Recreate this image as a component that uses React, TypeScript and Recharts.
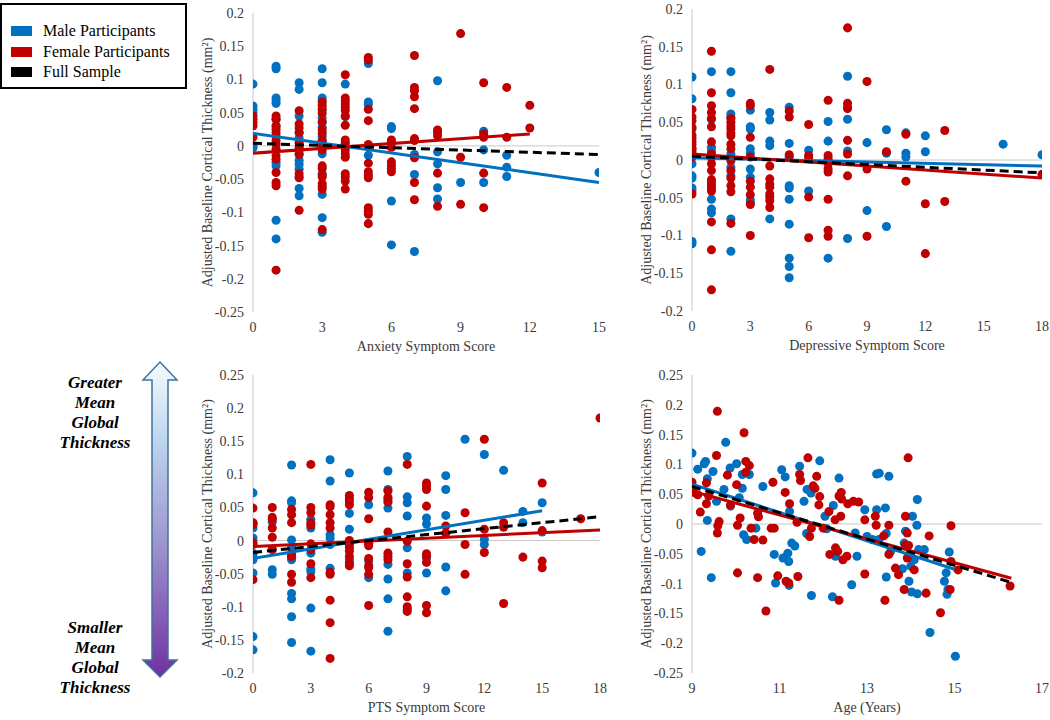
import React from "react";
import { ScatterChart, Scatter, XAxis, YAxis, ZAxis, ReferenceLine } from "recharts";

type Col = [number, number[]];
type Pt = [number, number];

const BLUE = "#0070c0";
const RED = "#c00000";
const AXIS_GRAY = "#c8c8c8";
const TEXT = "#3a3a3a";
const FONT = '"Liberation Serif", "Times New Roman", serif';
const Y_LABEL = "Adjusted Baseline Cortical Thickness (mm²)";

// ---- Anxiety panel (score columns) ----
const anxietyMale: Col[] = [
  [0, [0.093, 0.06, 0.055, 0.05, 0.0, -0.003]],
  [1, [0.12, 0.116, 0.072, 0.068, 0.064, 0.04, 0.03, -0.025, -0.03, -0.112, -0.14]],
  [2, [0.095, 0.085, 0.045, 0.02, 0.012, -0.012, -0.022, -0.028, -0.035, -0.047, -0.064, -0.075]],
  [3, [0.116, 0.095, 0.072, 0.068, 0.054, 0.042, 0.036, 0.028, 0.014, 0.008, 0.001, -0.012, -0.042, -0.073, -0.108, -0.13]],
  [4, [0.093, 0.044]],
  [5, [0.124, 0.066, 0.062, -0.014]],
  [6, [0.029, 0.026, -0.083, -0.149]],
  [7, [-0.013, -0.043, -0.159]],
  [8, [0.098, -0.009, -0.027, -0.063, -0.08]],
  [9, [-0.055]],
  [10, [0.022, -0.006, -0.055]],
  [11, [-0.014, -0.032, -0.046]],
  [15, [-0.04]],
];
const anxietyFemale: Col[] = [
  [0, [0.045, 0.04, 0.035, 0.03, 0.013]],
  [1, [0.045, 0.04, 0.03, 0.025, 0.02, 0.015, 0.008, 0.003, -0.005, -0.015, -0.02, -0.04, -0.055, -0.06, -0.187]],
  [2, [0.053, 0.033, 0.027, 0.02, 0.005, -0.002, -0.006, -0.013, -0.042, -0.048, -0.097]],
  [3, [0.066, 0.061, 0.056, 0.049, 0.036, 0.024, 0.019, 0.008, 0.0, -0.006, -0.03, -0.034, -0.044, -0.047, -0.057, -0.061, -0.065, -0.126]],
  [4, [0.107, 0.072, 0.068, 0.063, 0.058, 0.053, 0.045, 0.031, 0.009, 0.004, -0.002, -0.006, -0.012, -0.017, -0.042, -0.047, -0.053, -0.065]],
  [5, [0.133, 0.129, 0.055, 0.038, 0.002, -0.001, -0.026, -0.039, -0.044, -0.048, -0.093, -0.098, -0.103, -0.117]],
  [6, [0.009, 0.005, -0.002, -0.024, -0.029, -0.034, -0.039]],
  [7, [0.136, 0.088, 0.083, 0.074, 0.056, 0.011, 0.008, -0.018, -0.055, -0.081]],
  [8, [0.024, 0.02, 0.015, -0.041, -0.091]],
  [9, [0.169, -0.017, -0.088]],
  [10, [0.095, 0.018, 0.013, -0.041, -0.093]],
  [11, [0.088, 0.013]],
  [12, [0.061, 0.027]],
];
const anxietyMaleFit: Pt[] = [[0, 0.019], [15, -0.055]];
const anxietyFemaleFit: Pt[] = [[0, -0.011], [12, 0.018]];
const anxietyFullFit: Pt[] = [[0, 0.004], [15, -0.013]];

// ---- Depressive panel ----
const depressiveMale: Col[] = [
  [0, [0.11, 0.081, 0.041, 0.015, -0.005, -0.021, -0.024, -0.037, -0.041, -0.108, -0.111]],
  [1, [0.117, 0.054, 0.017, 0.012, -0.052, -0.065, -0.07]],
  [2, [0.117, 0.089, 0.061, 0.057, 0.008, -0.01, -0.021, -0.078, -0.121]],
  [3, [0.066, 0.044, 0.041, 0.015, 0.009, -0.012, -0.023, -0.053, -0.057]],
  [4, [0.063, 0.053, 0.025, 0.019, -0.078]],
  [5, [0.07, 0.022, -0.034, -0.037, -0.052, -0.085, -0.13, -0.141, -0.156]],
  [6, [0.013, -0.041]],
  [7, [0.051, 0.025, -0.001, -0.13]],
  [8, [0.111, 0.054, 0.012, -0.104]],
  [9, [0.023, -0.067]],
  [10, [0.04, 0.009, -0.088]],
  [11, [0.036, 0.009, 0.004]],
  [12, [0.032, 0.011]],
  [16, [0.021]],
  [18, [0.007]],
];
const depressiveFemale: Col[] = [
  [0, [0.067, 0.057, 0.052, 0.043, 0.033, 0.029, 0.025, 0.021, 0.016, 0.012, 0.008, 0.004, -0.045]],
  [1, [0.144, 0.089, 0.072, 0.063, 0.055, 0.044, 0.024, 0.008, 0.003, -0.005, -0.014, -0.026, -0.03, -0.034, -0.038, -0.041, -0.082, -0.119, -0.172]],
  [2, [0.055, 0.05, 0.045, 0.041, 0.036, 0.032, 0.021, 0.015, -0.001, -0.014, -0.024, -0.034, -0.042, -0.084]],
  [3, [0.075, 0.072, 0.03, 0.004, -0.028, -0.036, -0.046, -0.059, -0.1]],
  [4, [0.12, -0.008, -0.025, -0.032, -0.036, -0.045, -0.049, -0.054, -0.063]],
  [5, [0.065, 0.057, 0.007, 0.004]],
  [6, [0.047, 0.006, 0.003, -0.049, -0.103]],
  [7, [0.079, 0.006, 0.002, -0.005, -0.012, -0.016, -0.052, -0.093, -0.101]],
  [8, [0.175, 0.075, 0.07, 0.068, 0.026, 0.008, -0.021]],
  [9, [0.104, -0.012, -0.101]],
  [10, [0.011]],
  [11, [0.034, -0.028]],
  [12, [-0.058, -0.124]],
  [13, [0.039, -0.055]],
  [18, [-0.019]],
];
const depressiveMaleFit: Pt[] = [[0, 0.003], [18, -0.008]];
const depressiveFemaleFit: Pt[] = [[0, 0.008], [18, -0.024]];
const depressiveFullFit: Pt[] = [[0, 0.005], [18, -0.017]];

// ---- PTS panel ----
const ptsMale: Col[] = [
  [0, [0.072, 0.026, 0.019, 0.004, -0.019, -0.024, -0.029, -0.049, -0.145, -0.165]],
  [1, [0.028, -0.014, -0.044, -0.051]],
  [2, [0.114, 0.06, 0.057, 0.001, -0.011, -0.026, -0.029, -0.08, -0.088, -0.115, -0.154]],
  [3, [0.032, 0.019, -0.019, -0.043, -0.047, -0.102, -0.167]],
  [4, [0.122, 0.09, 0.009, 0.004, -0.006, -0.042]],
  [5, [0.102, 0.041, 0.017, -0.005, -0.029, -0.032]],
  [6, [0.054, -0.005, -0.031, -0.056]],
  [7, [0.105, 0.077, 0.049, -0.036, -0.058, -0.088, -0.137]],
  [8, [0.127, 0.066, 0.057, 0.037, -0.011, -0.049]],
  [9, [0.034, 0.025, -0.026, -0.049]],
  [10, [0.098, 0.077, 0.038, -0.04, -0.076]],
  [11, [0.153]],
  [12, [0.13, 0.002, -0.006]],
  [13, [0.106]],
  [14, [0.044, 0.027]],
  [15, [0.057, 0.013]],
];
const ptsFemale: Col[] = [
  [0, [0.049, 0.027, 0.024, -0.003, -0.006, -0.059]],
  [1, [0.05, 0.035, 0.032, 0.019, 0.005, -0.013]],
  [2, [0.047, 0.039, 0.027, -0.021, -0.024, -0.051, -0.063]],
  [3, [0.115, 0.05, 0.042, 0.027, 0.023, -0.005, -0.014, -0.035, -0.056]],
  [4, [0.054, 0.051, 0.039, 0.027, 0.019, -0.048, -0.051, -0.09, -0.124, -0.178]],
  [5, [0.068, 0.063, 0.059, 0.054, 0.0, -0.006, -0.011, -0.016, -0.024, -0.035, -0.038]],
  [6, [0.073, 0.065, 0.033, -0.004, -0.008, -0.027, -0.038, -0.041, -0.051, -0.098]],
  [7, [0.075, 0.065, 0.062, 0.058, 0.013, -0.019, -0.024, -0.029]],
  [8, [0.115, -0.001, -0.035, -0.055, -0.085, -0.1, -0.104, -0.107]],
  [9, [0.087, 0.082, 0.077, 0.052, -0.02, -0.024, -0.033, -0.098, -0.109]],
  [10, [0.022, 0.011]],
  [11, [0.042, -0.006, -0.051]],
  [12, [0.153, 0.017, -0.018]],
  [13, [0.027, 0.02, -0.095]],
  [14, [-0.025]],
  [15, [0.087, 0.015, -0.031, -0.041]],
  [17, [0.033]],
  [18, [0.185]],
];
const ptsMaleFit: Pt[] = [[0, -0.027], [15, 0.045]];
const ptsFemaleFit: Pt[] = [[0, -0.009], [18, 0.016]];
const ptsFullFit: Pt[] = [[0, -0.018], [18, 0.036]];

// ---- Age panel ----
const ageMale: Pt[] = [
  [9.0, 0.119], [9.13, 0.092], [9.28, 0.101], [9.31, 0.105], [9.21, -0.046], [9.35, 0.076], [9.35, 0.006],
  [9.44, -0.09], [9.48, 0.088], [9.56, 0.038], [9.73, 0.058], [9.77, 0.137], [9.87, 0.094], [9.88, 0.03],
  [10.02, 0.101], [10.08, 0.044], [10.15, 0.06], [10.15, 0.083], [10.18, -0.018], [10.25, -0.026],
  [10.31, 0.083], [10.46, -0.007], [10.62, 0.063], [10.88, -0.051], [10.91, -0.099], [11.05, 0.091],
  [11.08, -0.057], [11.13, 0.079], [11.19, -0.049], [11.21, -0.063], [11.22, -0.103], [11.23, 0.021],
  [11.28, -0.032], [11.35, -0.037], [11.46, 0.097], [11.56, 0.038], [11.62, -0.016], [11.63, 0.058],
  [11.72, 0.052], [11.73, -0.12], [11.92, 0.106], [12.04, 0.013], [12.08, -0.008], [12.21, -0.122],
  [12.23, 0.031], [12.28, -0.054], [12.36, 0.077], [12.65, -0.102], [12.73, -0.015], [12.77, -0.054],
  [12.95, 0.024], [13.0, -0.021], [13.12, -0.026], [13.22, 0.024], [13.22, 0.084], [13.28, 0.085],
  [13.27, -0.026], [13.42, 0.027], [13.44, -0.016], [13.44, -0.089], [13.5, 0.08], [13.54, -0.046],
  [13.81, -0.075], [13.85, -0.032], [13.88, -0.012], [13.96, -0.096], [14.0, -0.071], [14.02, -0.114],
  [14.04, 0.013], [14.08, -0.06], [14.15, 0.041], [14.14, -0.002], [14.15, -0.117], [14.18, -0.043],
  [14.31, -0.043], [14.44, -0.182], [14.77, -0.096], [14.81, -0.082], [14.85, -0.11], [14.83, -0.118],
  [14.88, -0.047], [15.02, -0.222],
];
const ageFemale: Pt[] = [
  [9.0, 0.07], [9.04, 0.053], [9.13, 0.049], [9.19, 0.02], [9.33, 0.069], [9.33, 0.034], [9.38, 0.047],
  [9.58, 0.189], [9.56, 0.115], [9.58, -0.015], [9.59, -0.003], [9.62, 0.004], [9.81, 0.082], [9.88, 0.032],
  [10.02, 0.066], [10.04, -0.002], [10.04, -0.082], [10.1, 0.01], [10.19, 0.153], [10.23, 0.105],
  [10.23, 0.087], [10.31, 0.098], [10.35, -0.007], [10.42, -0.026], [10.5, 0.018], [10.5, -0.09],
  [10.52, 0.012], [10.62, -0.027], [10.69, -0.146], [10.85, 0.07], [10.81, -0.007], [10.88, -0.007],
  [10.96, -0.087], [11.13, 0.053], [11.15, -0.096], [11.23, 0.034], [11.21, -0.099], [11.4, 0.003],
  [11.42, -0.088], [11.46, 0.083], [11.48, 0.073], [11.65, 0.111], [11.69, -0.021], [11.73, -0.007],
  [11.77, 0.064], [11.81, 0.06], [11.85, 0.08], [11.9, 0.032], [11.92, 0.046], [12.0, -0.007],
  [12.13, 0.021], [12.15, -0.051], [12.27, 0.007], [12.28, -0.04], [12.33, -0.046], [12.36, 0.047],
  [12.41, 0.053], [12.42, 0.042], [12.4, 0.013], [12.36, -0.128], [12.45, -0.06], [12.54, -0.054],
  [12.56, 0.034], [12.69, 0.038], [12.81, 0.037], [12.95, 0.007], [12.95, -0.084], [13.19, 0.013],
  [13.21, -0.002], [13.38, -0.02], [13.41, -0.128], [13.5, -0.002], [13.5, -0.051], [13.65, -0.074],
  [13.72, -0.085], [13.85, -0.11], [13.88, 0.013], [13.88, -0.035], [13.92, -0.015], [13.94, 0.111],
  [13.95, -0.036], [13.92, -0.057], [14.08, -0.077], [14.35, -0.116], [14.42, -0.02], [14.68, -0.149],
  [14.92, -0.003], [14.9, -0.11], [14.92, -0.063], [15.08, -0.077], [16.27, -0.104],
];
const ageMaleFit: Pt[] = [[9, 0.067], [15, -0.076]];
const ageFemaleFit: Pt[] = [[9, 0.055], [16.3, -0.091]];
const ageFullFit: Pt[] = [[9, 0.063], [16.3, -0.098]];

// ---- axis ticks ----
const xTicksAnxiety = [0, 3, 6, 9, 12, 15];
const xTicksScore18 = [0, 3, 6, 9, 12, 15, 18];
const xTicksAge = [9, 11, 13, 15, 17];
const yTicksAnxiety = [-0.25, -0.2, -0.15, -0.1, -0.05, 0, 0.05, 0.1, 0.15, 0.2];
const yTicksDepressive = [-0.2, -0.15, -0.1, -0.05, 0, 0.05, 0.1, 0.15, 0.2];
const yTicksPts = [-0.2, -0.15, -0.1, -0.05, 0, 0.05, 0.1, 0.15, 0.2, 0.25];
const yTicksAge = [-0.25, -0.2, -0.15, -0.1, -0.05, 0, 0.05, 0.1, 0.15, 0.2, 0.25];

const legendItems = [
  { label: "Male Participants", color: BLUE },
  { label: "Female Participants", color: RED },
  { label: "Full Sample", color: "#000000" },
];

const fromCols = (c: Col[]) => c.flatMap(([x, ys]) => ys.map((y) => ({ x, y })));
const fromPts = (p: Pt[]) => p.map(([x, y]) => ({ x, y }));
const fmt = (v: number) => String(Math.round(v * 100) / 100);
const noDot = () => <g />;

interface PanelProps {
  px: number;
  py: number;
  pw: number;
  ph: number;
  xDomain: [number, number];
  xTicks: number[];
  yDomain: [number, number];
  yTicks: number[];
  xLabel: string;
  male: { x: number; y: number }[];
  female: { x: number; y: number }[];
  maleFit: Pt[];
  femaleFit: Pt[];
  fullFit: Pt[];
}

const YW = 73;
const MT = 12;
const XH = 45;
const MR = 8;

const Panel: React.FC<PanelProps> = (p) => {
  const tick = { fill: TEXT, fontSize: 14 };
  return (
    <div style={{ position: "absolute", left: p.px - YW, top: p.py - MT, fontFamily: FONT }}>
      <ScatterChart
        width={YW + p.pw + MR}
        height={MT + p.ph + XH}
        margin={{ top: MT, right: MR, bottom: 0, left: 0 }}
      >
        <XAxis
          type="number"
          dataKey="x"
          domain={p.xDomain}
          ticks={p.xTicks}
          interval={0}
          allowDataOverflow
          axisLine={false}
          tickLine={false}
          tickSize={0}
          tickMargin={10}
          height={XH}
          tick={tick}
          label={{ value: p.xLabel, position: "insideBottom", offset: 6, fill: TEXT, fontSize: 14 }}
        />
        <YAxis
          type="number"
          dataKey="y"
          domain={p.yDomain}
          ticks={p.yTicks}
          interval={0}
          allowDataOverflow
          width={YW}
          axisLine={{ stroke: AXIS_GRAY }}
          tickLine={false}
          tickSize={0}
          tickMargin={9}
          tick={tick}
          tickFormatter={fmt}
          label={{
            value: Y_LABEL,
            angle: -90,
            position: "insideLeft",
            offset: 27,
            fill: TEXT,
            fontSize: 14,
            style: { textAnchor: "middle" },
          }}
        />
        <ZAxis range={[40, 40]} />
        <ReferenceLine y={0} stroke={AXIS_GRAY} />
        <Scatter data={p.male} fill={BLUE} isAnimationActive={false} />
        <Scatter data={p.female} fill={RED} isAnimationActive={false} />
        <Scatter
          data={fromPts(p.maleFit)}
          fill={BLUE}
          line={{ stroke: BLUE, strokeWidth: 3 }}
          shape={noDot}
          isAnimationActive={false}
        />
        <Scatter
          data={fromPts(p.femaleFit)}
          fill={RED}
          line={{ stroke: RED, strokeWidth: 3 }}
          shape={noDot}
          isAnimationActive={false}
        />
        <Scatter
          data={fromPts(p.fullFit)}
          fill="#000"
          line={{ stroke: "#000", strokeWidth: 3, strokeDasharray: "9 5" }}
          shape={noDot}
          isAnimationActive={false}
        />
      </ScatterChart>
    </div>
  );
};

const arrowText: React.CSSProperties = {
  position: "absolute",
  left: 35,
  width: 120,
  textAlign: "center",
  fontFamily: FONT,
  fontWeight: "bold",
  fontStyle: "italic",
  fontSize: 17,
  lineHeight: "20px",
  color: "#000",
};

const App: React.FC = () => {
  return (
    <div style={{ position: "absolute", left: 0, top: 0, width: 1050, height: 720, background: "#fff", fontFamily: FONT }}>
      {/* legend */}
      <div style={{ position: "absolute", left: 0, top: 3, width: 183, height: 82, border: "2px solid #000", background: "#fff" }}>
        {legendItems.map((it, i) => (
          <div key={it.label} style={{ position: "absolute", left: 9, top: 16 + i * 20.5, height: 20, display: "flex", alignItems: "center" }}>
            <div style={{ width: 21, height: 10, background: it.color }} />
            <span style={{ marginLeft: 11, fontSize: 16, color: "#000", whiteSpace: "nowrap" }}>{it.label}</span>
          </div>
        ))}
      </div>

      {/* thickness arrow */}
      <svg style={{ position: "absolute", left: 0, top: 0 }} width={200} height={720}>
        <defs>
          <linearGradient id="arrowGrad" x1="0" y1="0" x2="0" y2="1">
            <stop offset="0" stopColor="#f7fbff" />
            <stop offset="0.25" stopColor="#bcd6ee" />
            <stop offset="0.6" stopColor="#9b8fcc" />
            <stop offset="1" stopColor="#7030a0" />
          </linearGradient>
        </defs>
        <path
          d="M160 362 L177 380 L168 380 L168 660 L177 660 L160 677 L143 660 L152 660 L152 380 L143 380 Z"
          fill="url(#arrowGrad)"
          stroke="#41719c"
          strokeWidth={1.5}
        />
      </svg>
      <div style={{ ...arrowText, top: 373 }}>
        Greater
        <br />
        Mean
        <br />
        Global
        <br />
        Thickness
      </div>
      <div style={{ ...arrowText, top: 618 }}>
        Smaller
        <br />
        Mean
        <br />
        Global
        <br />
        Thickness
      </div>

      <Panel
        px={253} py={13} pw={346} ph={299}
        xDomain={[0, 15]} xTicks={xTicksAnxiety}
        yDomain={[-0.25, 0.2]} yTicks={yTicksAnxiety}
        xLabel="Anxiety Symptom Score"
        male={fromCols(anxietyMale)} female={fromCols(anxietyFemale)}
        maleFit={anxietyMaleFit} femaleFit={anxietyFemaleFit} fullFit={anxietyFullFit}
      />
      <Panel
        px={692} py={9} pw={350} ph={302}
        xDomain={[0, 18]} xTicks={xTicksScore18}
        yDomain={[-0.2, 0.2]} yTicks={yTicksDepressive}
        xLabel="Depressive Symptom Score"
        male={fromCols(depressiveMale)} female={fromCols(depressiveFemale)}
        maleFit={depressiveMaleFit} femaleFit={depressiveFemaleFit} fullFit={depressiveFullFit}
      />
      <Panel
        px={253} py={375} pw={347} ph={298}
        xDomain={[0, 18]} xTicks={xTicksScore18}
        yDomain={[-0.2, 0.25]} yTicks={yTicksPts}
        xLabel="PTS Symptom Score"
        male={fromCols(ptsMale)} female={fromCols(ptsFemale)}
        maleFit={ptsMaleFit} femaleFit={ptsFemaleFit} fullFit={ptsFullFit}
      />
      <Panel
        px={692} py={375} pw={350} ph={298}
        xDomain={[9, 17]} xTicks={xTicksAge}
        yDomain={[-0.25, 0.25]} yTicks={yTicksAge}
        xLabel="Age (Years)"
        male={fromPts(ageMale)} female={fromPts(ageFemale)}
        maleFit={ageMaleFit} femaleFit={ageFemaleFit} fullFit={ageFullFit}
      />
    </div>
  );
};

export default App;
